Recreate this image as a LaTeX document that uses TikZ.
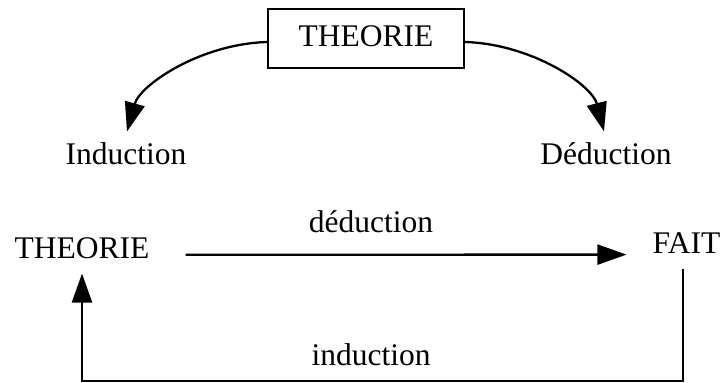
\documentclass[tikz,border=0pt]{standalone}
\usepackage{fontspec}
\setmainfont{Liberation Serif}
\usetikzlibrary{arrows.meta}
\begin{document}
\begin{tikzpicture}[x=1pt,y=-1pt,
  lbl/.style={inner sep=0pt,anchor=base,font=\fontsize{31.5}{36}\selectfont},
  conn/.style={line width=2.3pt,-{Triangle[length=29pt,width=20pt]}},
  plain/.style={line width=2.3pt}]
\useasboundingbox (0,0) rectangle (724,383);
% top part
\node[draw,line width=2pt,minimum width=196pt,minimum height=59pt,inner sep=0pt,
      text height=21pt,text depth=6pt,font=\fontsize{31.5}{36}\selectfont] (top) at (366,38.5) {THEORIE};
\node[lbl] (ind) at (126,164) {Induction};
\node[lbl] (ded) at (606,164) {Déduction};
\draw[conn] ([shift={(0,3.5)}]top.west) .. controls (200,44) and (140,85) .. ([shift={(1,-10.5)}]ind.north);
\draw[conn] ([shift={(0,3.5)}]top.east) .. controls (532,44) and (592,85) .. ([shift={(-2,-10.5)}]ded.north);
% bottom part
\node[lbl] (theo) at (82,258) {THEORIE};
\node[lbl] (fait) at (686.5,253) {FAIT};
\node[lbl] (dlab) at (371,232) {déduction};
\node[lbl] (ilab) at (371,365) {induction};
\draw[conn] ([shift={(36,7)}]theo.east) -- ([shift={(-26,12)}]fait.west);
\draw[conn] ([shift={(-3.5,16)}]fait.south) -- ++(0,112) -| ([shift={(0,15)}]theo.south);
\end{tikzpicture}
\end{document}
